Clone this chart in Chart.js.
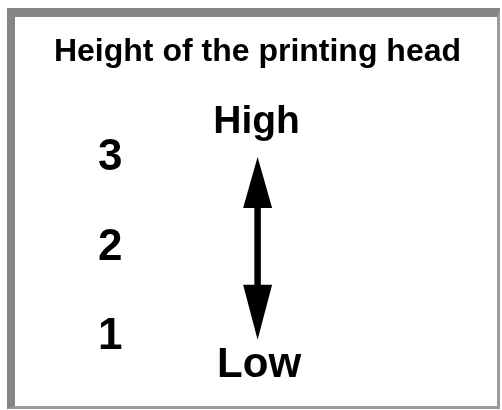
<!DOCTYPE html>
<html>
<head>
<meta charset="utf-8">
<script src="https://cdn.jsdelivr.net/npm/chart.js@4/dist/chart.umd.min.js"></script>
<style>
html,body{margin:0;padding:0;background:#fff;}
#wrap{position:relative;width:502px;height:410px;overflow:hidden;background:#fff;}
#frame{position:absolute;left:7px;top:8px;width:482px;height:389px;border-left:8px solid #858585;border-top:9px solid #858585;border-right:3px solid #9a9a9a;border-bottom:3px solid #9a9a9a;}
canvas{position:absolute;left:0;top:0;}
</style>
</head>
<body>
<div id="wrap">
  <div id="frame"></div>
  <canvas id="c" width="502" height="410"></canvas>
</div>
<script>
// ---- data ----
const titleText = 'Height of the printing head';
const tickValues = [1, 2, 3];
const tickLabels = ['1', '2', '3'];
const arrowX = [0, 0];
const arrowY = [0.97, 3.01];          // low end, high end of the double arrow
const endLabels = ['Low', 'High'];

const FONT = '"Liberation Sans", Arial, Helvetica, sans-serif';

let clipSaved = false;
const arrowPlugin = {
  id: 'arrowHeads',
  beforeDatasetsDraw(chart) {
    const {ctx, scales: {y}} = chart;
    const yLow = y.getPixelForValue(arrowY[0]);
    const yHigh = y.getPixelForValue(arrowY[1]);
    ctx.save();
    ctx.beginPath();
    ctx.rect(0, yHigh + 40, chart.width, (yLow - 40) - (yHigh + 40));
    ctx.clip();
    clipSaved = true;
  },
  afterDatasetsDraw(chart) {
    const {ctx, scales: {x, y}} = chart;
    if (clipSaved) { ctx.restore(); clipSaved = false; }
    const px = x.getPixelForValue(arrowX[1]);
    const yLow = y.getPixelForValue(arrowY[0]);
    const yHigh = y.getPixelForValue(arrowY[1]);
    ctx.save();
    ctx.fillStyle = '#000';
    // upper head
    ctx.beginPath();
    ctx.moveTo(px, yHigh);
    ctx.lineTo(px - 14.5, yHigh + 51);
    ctx.lineTo(px + 14.5, yHigh + 51);
    ctx.closePath();
    ctx.fill();
    // lower head
    ctx.beginPath();
    ctx.moveTo(px, yLow);
    ctx.lineTo(px - 14.5, yLow - 55);
    ctx.lineTo(px + 14.5, yLow - 55);
    ctx.closePath();
    ctx.fill();
    // end labels
    ctx.textAlign = 'center';
    ctx.textBaseline = 'alphabetic';
    ctx.font = 'bold 39px ' + FONT;
    ctx.fillText(endLabels[1], px - 1, yHigh - 24);
    ctx.font = 'bold 42px ' + FONT;
    ctx.fillText(endLabels[0], px + 1.5, yLow + 37);
    ctx.restore();
  }
};

new Chart(document.getElementById('c'), {
  type: 'line',
  data: {
    datasets: [{
      data: arrowY.map((v, i) => ({x: arrowX[i], y: v})),
      borderColor: '#000',
      borderWidth: 6.5,
      borderCapStyle: 'butt',
      pointRadius: 0,
      fill: false
    }]
  },
  options: {
    responsive: false,
    animation: false,
    events: [],
    layout: {padding: {left: 13, right: 0, top: 0, bottom: 28.25}},
    plugins: {
      legend: {display: false},
      tooltip: {enabled: false},
      title: {
        display: true,
        text: titleText,
        color: '#000',
        font: {family: FONT, size: 32, weight: 'bold', lineHeight: 1.2},
        padding: {top: 32.8, bottom: 42}
      }
    },
    scales: {
      x: {type: 'linear', display: false, min: -1, max: 1.85},
      y: {
        type: 'linear',
        min: 0.5,
        max: 3.5,
        afterBuildTicks(s) { s.ticks = tickValues.map(v => ({value: v})); },
        afterFit(s) { s.width = 112.5; },
        grid: {display: false, drawTicks: false},
        border: {display: false},
        ticks: {
          padding: 3,
          color: '#000',
          autoSkip: false,
          font: {family: FONT, size: 44, weight: 'bold', lineHeight: 1},
          callback: (v, i) => tickLabels[i]
        }
      }
    }
  },
  plugins: [arrowPlugin]
});
</script>
</body>
</html>
